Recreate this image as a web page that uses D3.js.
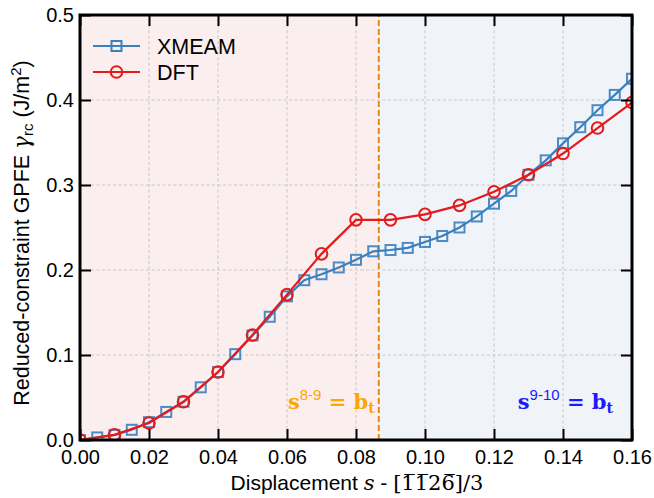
<!DOCTYPE html>
<html>
<head>
<meta charset="utf-8">
<script src="https://cdn.jsdelivr.net/npm/d3@7.9.0/dist/d3.min.js"></script>
<style>
  body { margin: 0; background: #fff; }
  text { font-family: "Liberation Sans", Arial, sans-serif; }
</style>
</head>
<body>
<svg id="chart" width="654" height="498"></svg>
<script>
// XMEAM data (every 0.005)
const xmeamS = [0.000, 0.005, 0.010, 0.015, 0.020, 0.025, 0.030, 0.035, 0.040, 0.045, 0.050,
                0.055, 0.060, 0.065, 0.070, 0.075, 0.080, 0.085, 0.090, 0.095, 0.100, 0.105,
                0.110, 0.115, 0.120, 0.125, 0.130, 0.135, 0.140, 0.145, 0.150, 0.155, 0.160];
const xmeamE = [0.000, 0.003, 0.006, 0.012, 0.021, 0.033, 0.045, 0.062, 0.080, 0.101, 0.123,
                0.145, 0.169, 0.188, 0.195, 0.203, 0.212, 0.222, 0.2235, 0.226, 0.233, 0.240,
                0.250, 0.263, 0.278, 0.293, 0.312, 0.329, 0.349, 0.368, 0.388, 0.406, 0.425];
// DFT data (every 0.01)
const dftS = [0.00, 0.01, 0.02, 0.03, 0.04, 0.05, 0.06, 0.07, 0.08,
              0.09, 0.10, 0.11, 0.12, 0.13, 0.14, 0.15, 0.16];
const dftE = [0.000, 0.006, 0.020, 0.045, 0.080, 0.1235, 0.171, 0.219, 0.259,
              0.259, 0.2655, 0.276, 0.292, 0.312, 0.337, 0.367, 0.397];

const xTicks = [0, 0.02, 0.04, 0.06, 0.08, 0.10, 0.12, 0.14, 0.16];
const yTicks = [0, 0.1, 0.2, 0.3, 0.4, 0.5];
const sBoundary = 0.0866; // s^{8-9} = b_t

const blue = '#3a80bf', red = '#e41a1c';

const margin = {left: 80, right: 22, top: 15, bottom: 58};
const W = 654, H = 498;
const svg = d3.select('#chart');

const x = d3.scaleLinear().domain([0, 0.16]).range([margin.left, W - margin.right]);
const y = d3.scaleLinear().domain([0, 0.5]).range([H - margin.bottom, margin.top]);

// background regions
svg.append('rect')
  .attr('x', x(0)).attr('y', y(0.5))
  .attr('width', x(sBoundary) - x(0)).attr('height', y(0) - y(0.5))
  .attr('fill', '#fbeeee');
svg.append('rect')
  .attr('x', x(sBoundary)).attr('y', y(0.5))
  .attr('width', x(0.16) - x(sBoundary)).attr('height', y(0) - y(0.5))
  .attr('fill', '#f0f4f9');

// grid
const grid = svg.append('g').attr('stroke', '#bbb').attr('stroke-width', 0.8).attr('stroke-dasharray', '3,2.5');
xTicks.forEach(t => grid.append('line').attr('x1', x(t)).attr('x2', x(t)).attr('y1', y(0)).attr('y2', y(0.5)));
yTicks.forEach(t => grid.append('line').attr('x1', x(0)).attr('x2', x(0.16)).attr('y1', y(t)).attr('y2', y(t)));

// boundary dashed line
svg.append('line')
  .attr('x1', x(sBoundary)).attr('x2', x(sBoundary)).attr('y1', y(0)).attr('y2', y(0.5))
  .attr('stroke', '#ee8612').attr('stroke-width', 2).attr('stroke-dasharray', '6,3');

// clip
svg.append('clipPath').attr('id', 'clip').append('rect')
  .attr('x', x(0)).attr('y', y(0.5)).attr('width', x(0.16) - x(0)).attr('height', y(0) - y(0.5));

const plot = svg.append('g').attr('clip-path', 'url(#clip)');
const line = d3.line().x(d => x(d[0])).y(d => y(d[1]));

const xmeam = xmeamS.map((s, i) => [s, xmeamE[i]]);
const dft = dftS.map((s, i) => [s, dftE[i]]);

plot.append('path').datum(xmeam).attr('d', line)
  .attr('fill', 'none').attr('stroke', blue).attr('stroke-width', 2.2);
plot.selectAll('rect.xm').data(xmeam).join('rect').attr('class', 'xm')
  .attr('x', d => x(d[0]) - 5).attr('y', d => y(d[1]) - 5)
  .attr('width', 10).attr('height', 10)
  .attr('fill', 'none').attr('stroke', blue).attr('stroke-width', 2).attr('stroke-opacity', 0.9);

plot.append('path').datum(dft).attr('d', line)
  .attr('fill', 'none').attr('stroke', red).attr('stroke-width', 2.2);
plot.selectAll('circle.dft').data(dft).join('circle').attr('class', 'dft')
  .attr('cx', d => x(d[0])).attr('cy', d => y(d[1])).attr('r', 5.8)
  .attr('fill', 'none').attr('stroke', red).attr('stroke-width', 2);

// axes with inward ticks
const fs = 20;
const axB = svg.append('g').attr('transform', `translate(0,${y(0)})`)
  .call(d3.axisBottom(x).tickValues(xTicks).tickFormat(d3.format('.2f')).tickSizeInner(-11).tickSizeOuter(0).tickPadding(10));
const axT = svg.append('g').attr('transform', `translate(0,${y(0.5)})`)
  .call(d3.axisTop(x).tickValues(xTicks).tickFormat('').tickSizeInner(-11).tickSizeOuter(0));
const axL = svg.append('g').attr('transform', `translate(${x(0)},0)`)
  .call(d3.axisLeft(y).tickValues(yTicks).tickFormat(d3.format('.1f')).tickSizeInner(-11).tickSizeOuter(0).tickPadding(6));
const axR = svg.append('g').attr('transform', `translate(${x(0.16)},0)`)
  .call(d3.axisRight(y).tickValues(yTicks).tickFormat('').tickSizeInner(-11).tickSizeOuter(0));
[axB, axT, axL, axR].forEach(a => {
  a.select('.domain').remove();
  a.selectAll('.tick line').attr('stroke', '#000').attr('stroke-width', 2);
  a.selectAll('text').attr('font-size', fs).attr('fill', '#000')
    .attr('font-family', '"Liberation Sans", Arial, sans-serif');
});

// frame
svg.append('rect')
  .attr('x', x(0)).attr('y', y(0.5)).attr('width', x(0.16) - x(0)).attr('height', y(0) - y(0.5))
  .attr('fill', 'none').attr('stroke', '#000').attr('stroke-width', 3);

// annotations
const ann1 = svg.append('text').attr('x', x(sBoundary) - 4).attr('y', 409).attr('text-anchor', 'end')
  .attr('fill', '#ffa500').attr('font-size', 21);
ann1.append('tspan').attr('font-family', '"DejaVu Serif", serif').attr('font-weight', 'bold').text('s');
ann1.append('tspan').attr('font-size', 15).attr('dy', -9).text('8-9');
ann1.append('tspan').attr('dy', 9).attr('font-family', '"DejaVu Serif", serif').attr('font-weight', 'bold').text(' = b');
ann1.append('tspan').attr('font-size', 14).attr('dy', 4).attr('font-family', '"DejaVu Serif", serif').attr('font-weight', 'bold').text('t');

const ann2 = svg.append('text').attr('x', 613).attr('y', 409).attr('text-anchor', 'end')
  .attr('fill', '#1a1aff').attr('font-size', 21);
ann2.append('tspan').attr('font-family', '"DejaVu Serif", serif').attr('font-weight', 'bold').text('s');
ann2.append('tspan').attr('font-size', 15).attr('dy', -9).text('9-10');
ann2.append('tspan').attr('dy', 9).attr('font-family', '"DejaVu Serif", serif').attr('font-weight', 'bold').text(' = b');
ann2.append('tspan').attr('font-size', 14).attr('dy', 4).attr('font-family', '"DejaVu Serif", serif').attr('font-weight', 'bold').text('t');

// legend
const legend = svg.append('g').attr('transform', 'translate(93,46)');
[['XMEAM', blue, 'sq'], ['DFT', red, 'ci']].forEach(([name, col, mk], i) => {
  const g = legend.append('g').attr('transform', `translate(0,${i * 26})`);
  g.append('line').attr('x1', 0).attr('x2', 47).attr('stroke', col).attr('stroke-width', 2.2);
  if (mk === 'sq') g.append('rect').attr('x', 18.5).attr('y', -5).attr('width', 10).attr('height', 10)
    .attr('fill', 'none').attr('stroke', col).attr('stroke-width', 2);
  else g.append('circle').attr('cx', 23.5).attr('r', 5.8).attr('fill', 'none').attr('stroke', col).attr('stroke-width', 2);
  g.append('text').attr('x', 64).attr('dy', '0.36em').attr('font-size', 21.5).text(name);
});

// x label
const xl = svg.append('text').attr('x', 357).attr('y', 490).attr('text-anchor', 'middle').attr('font-size', 21);
xl.append('tspan').text('Displacement ');
xl.append('tspan').attr('font-family', '"DejaVu Serif", serif').attr('font-style', 'italic').text('s');
xl.append('tspan').text(' - ');
xl.append('tspan').attr('font-family', '"DejaVu Serif", serif').text('[1\u03051\u030526\u0305]/3');

// y label
const yl = svg.append('text').attr('transform', `translate(29,233) rotate(-90)`)
  .attr('text-anchor', 'middle').attr('font-size', 21.5);
yl.append('tspan').text('Reduced-constraint GPFE ');
yl.append('tspan').attr('font-family', '"DejaVu Serif", serif').attr('font-style', 'italic').text('\u03b3');
yl.append('tspan').attr('font-size', 15).attr('dy', 4).text('rc');
yl.append('tspan').attr('dy', -4).text(' (J/m');
yl.append('tspan').attr('font-size', 15).attr('dy', -8).text('2');
yl.append('tspan').attr('dy', 8).text(')');
</script>
</body>
</html>
